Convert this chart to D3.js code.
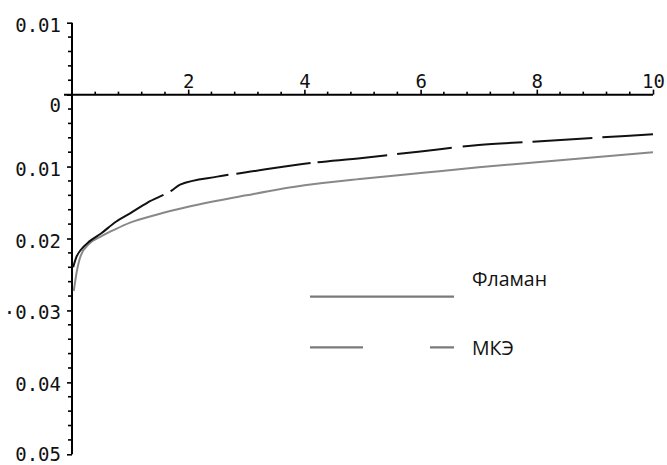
<!DOCTYPE html>
<html>
<head>
<meta charset="utf-8">
<script src="https://cdn.jsdelivr.net/npm/d3@7/dist/d3.min.js"></script>
<style>
  html, body { margin: 0; padding: 0; background: #fff; }
  svg { display: block; }
</style>
</head>
<body>
<script>
// ---- data ----
const flamanX = [0.03, 0.08, 0.15, 0.3, 0.5, 0.75, 1.0, 1.5, 2, 3, 4, 5, 6, 7, 8, 9, 10];
const flamanY = [-0.0273, -0.0247, -0.0224, -0.0207, -0.0197, -0.0187, -0.0178, -0.0166, -0.0156, -0.0140, -0.0126, -0.0117, -0.0109, -0.0101, -0.0094, -0.0087, -0.0080];

const femX = [0.02, 0.08, 0.15, 0.3, 0.5, 0.75, 1.0, 1.3, 1.72, 1.86, 2.5, 3, 4, 5, 6, 7, 8, 9, 10];
const femY = [-0.0240, -0.0225, -0.0216, -0.0204, -0.0193, -0.0177, -0.0165, -0.0150, -0.0133, -0.0125, -0.0114, -0.0108, -0.0096, -0.0088, -0.0079, -0.0070, -0.0065, -0.0060, -0.0055];

const xTickValues = [2, 4, 6, 8, 10];
const xTickLabels = ["2", "4", "6", "8", "10"];
const yTickValues = [0.01, 0, -0.01, -0.02, -0.03, -0.04, -0.05];
const yTickLabels = ["0.01", "0", "0.01", "0.02", "·0.03", "0.04", "0.05"];
const legendLabels = ["Фламан", "МКЭ"];

// ---- chart ----
const W = 667, H = 465;
const svg = d3.select("body").append("svg").attr("width", W).attr("height", H);
svg.append("rect").attr("width", W).attr("height", H).attr("fill", "#fff");

const x = d3.scaleLinear().domain([0, 10]).range([72, 653]);
const y = d3.scaleLinear().domain([-0.05, 0.01]).range([454.3, 22.7]);

const tickFont = "'DejaVu Sans Mono', monospace";

// minor ticks
const xMinor = d3.range(0.4, 10.001, 0.4).filter(v => xTickValues.every(t => Math.abs(t - v) > 1e-6));
const yMinor = d3.range(-0.05, 0.0101, 0.002).filter(v => yTickValues.every(t => Math.abs(t - v) > 1e-6));

svg.append("g").selectAll("line").data(xMinor).join("line")
  .attr("x1", d => x(d)).attr("x2", d => x(d))
  .attr("y1", y(0)).attr("y2", y(0) - 3)
  .attr("stroke", "#000").attr("stroke-width", 1.6);

svg.append("g").selectAll("line").data(yMinor).join("line")
  .attr("x1", x(0)).attr("x2", x(0) - 4)
  .attr("y1", d => y(d)).attr("y2", d => y(d))
  .attr("stroke", "#000").attr("stroke-width", 1.6);

// x axis
const xAxis = svg.append("g").attr("transform", `translate(0,${y(0)})`)
  .call(d3.axisTop(x).tickValues(xTickValues).tickSize(5).tickSizeOuter(0)
    .tickFormat((d, i) => xTickLabels[i]));
xAxis.select(".domain").remove();
xAxis.selectAll(".tick line").attr("stroke", "#000").attr("stroke-width", 1.6);
xAxis.selectAll(".tick text").attr("font-family", tickFont).attr("font-size", 19)
  .attr("fill", "#111").attr("y", -7).attr("dy", 0);
svg.append("line").attr("x1", x(0) - 8).attr("x2", x(10)).attr("y1", y(0)).attr("y2", y(0))
  .attr("stroke", "#000").attr("stroke-width", 2);

// y axis
const yAxis = svg.append("g").attr("transform", `translate(${x(0)},0)`)
  .call(d3.axisLeft(y).tickValues(yTickValues).tickSize(5).tickSizeOuter(0)
    .tickFormat((d, i) => yTickLabels[i]));
yAxis.select(".domain").remove();
yAxis.selectAll(".tick line").attr("stroke", "#000").attr("stroke-width", 1.6);
yAxis.selectAll(".tick text").attr("font-family", tickFont).attr("font-size", 19)
  .attr("fill", "#111").attr("x", -11)
  .attr("dy", (d) => d === 0 ? "0.9em" : (d === -0.05 ? "0.35em" : "0.45em"));
svg.append("line").attr("x1", x(0)).attr("x2", x(0)).attr("y1", y(0.01)).attr("y2", y(-0.05))
  .attr("stroke", "#000").attr("stroke-width", 2);

// curves
const line = d3.line().x(d => x(d[0])).y(d => y(d[1])).curve(d3.curveMonotoneX);

svg.append("path").datum(flamanX.map((v, i) => [v, flamanY[i]]))
  .attr("d", line).attr("fill", "none").attr("stroke", "#888").attr("stroke-width", 2);

svg.append("path").datum(femX.map((v, i) => [v, femY[i]]))
  .attr("d", line).attr("fill", "none").attr("stroke", "#111").attr("stroke-width", 2)
  .attr("stroke-dasharray", "119,8,61,8,75,7,70,10,55,11,60,10,60,10,60,10,60");

// legend
const legendFont = "'Open Sans', sans-serif";
svg.append("line").attr("x1", 310).attr("x2", 454).attr("y1", 296.7).attr("y2", 296.7)
  .attr("stroke", "#7a7a7a").attr("stroke-width", 2.2);
svg.append("line").attr("x1", 310).attr("x2", 454).attr("y1", 347.3).attr("y2", 347.3)
  .attr("stroke", "#7a7a7a").attr("stroke-width", 2.2).attr("stroke-dasharray", "53,67,24");
svg.append("text").attr("x", 472).attr("y", 279).attr("dy", "0.35em")
  .attr("font-family", legendFont).attr("font-size", 19.5).attr("font-weight", 500)
  .attr("fill", "#111").text(legendLabels[0]);
svg.append("text").attr("x", 472).attr("y", 348).attr("dy", "0.35em")
  .attr("font-family", legendFont).attr("font-size", 19.5).attr("font-weight", 500)
  .attr("fill", "#111").text(legendLabels[1]);
</script>
</body>
</html>
